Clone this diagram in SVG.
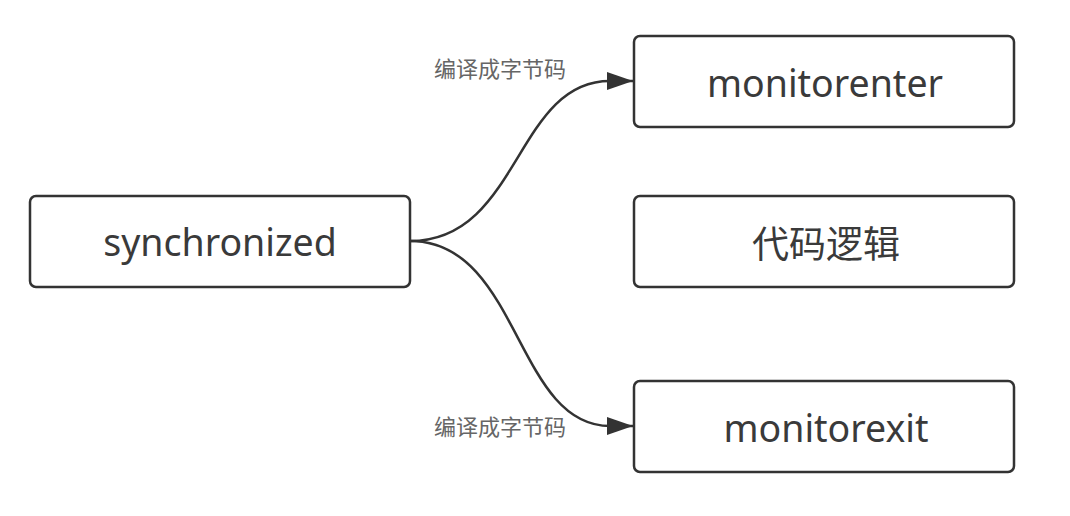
<svg xmlns="http://www.w3.org/2000/svg" width="1070" height="516" viewBox="0 0 1070 516">
<style>
.box{fill:#fff;stroke:#333;stroke-width:2.5}
.t{font-family:"Noto Sans","Noto Sans CJK SC",sans-serif;font-size:37.5px;fill:#3a3a3a;text-anchor:middle}
.tc{font-family:"Noto Sans CJK SC",sans-serif;font-size:37px;fill:#3a3a3a;text-anchor:middle}
.lbl{font-family:"Noto Sans CJK SC",sans-serif;font-size:22px;fill:#666;text-anchor:middle}
.edge{fill:none;stroke:#333;stroke-width:2.5}
</style>
<defs>
<marker id="arr" markerUnits="userSpaceOnUse" markerWidth="28" markerHeight="20" refX="26" refY="9" orient="auto">
<path d="M0,0 L26,9 L0,18 Z" fill="#333"/>
</marker>
</defs>
<rect width="1070" height="516" fill="#fff"/>
<g id="connectors">
<path class="edge" d="M410,241 C520,241 515,81 610,81 L633,81" marker-end="url(#arr)"/>
<path class="edge" d="M410,241 C520,241 515,426 610,426 L633,426" marker-end="url(#arr)"/>
<text class="lbl" x="500" y="77">编译成字节码</text>
<text class="lbl" x="500" y="435">编译成字节码</text>
</g>
<g id="synchronized">
<rect class="box" x="30" y="196" width="380" height="91" rx="6"/>
<text class="t" x="220" y="256">synchronized</text>
</g>
<g id="monitorenter">
<rect class="box" x="634" y="36" width="380" height="91" rx="6"/>
<text class="t" x="825" y="97">monitorenter</text>
</g>
<g id="logic">
<rect class="box" x="634" y="196" width="380" height="91" rx="6"/>
<text class="tc" x="826" y="258">代码逻辑</text>
</g>
<g id="monitorexit">
<rect class="box" x="634" y="381" width="380" height="91" rx="6"/>
<text class="t" x="826" y="442">monitorexit</text>
</g>
</svg>
